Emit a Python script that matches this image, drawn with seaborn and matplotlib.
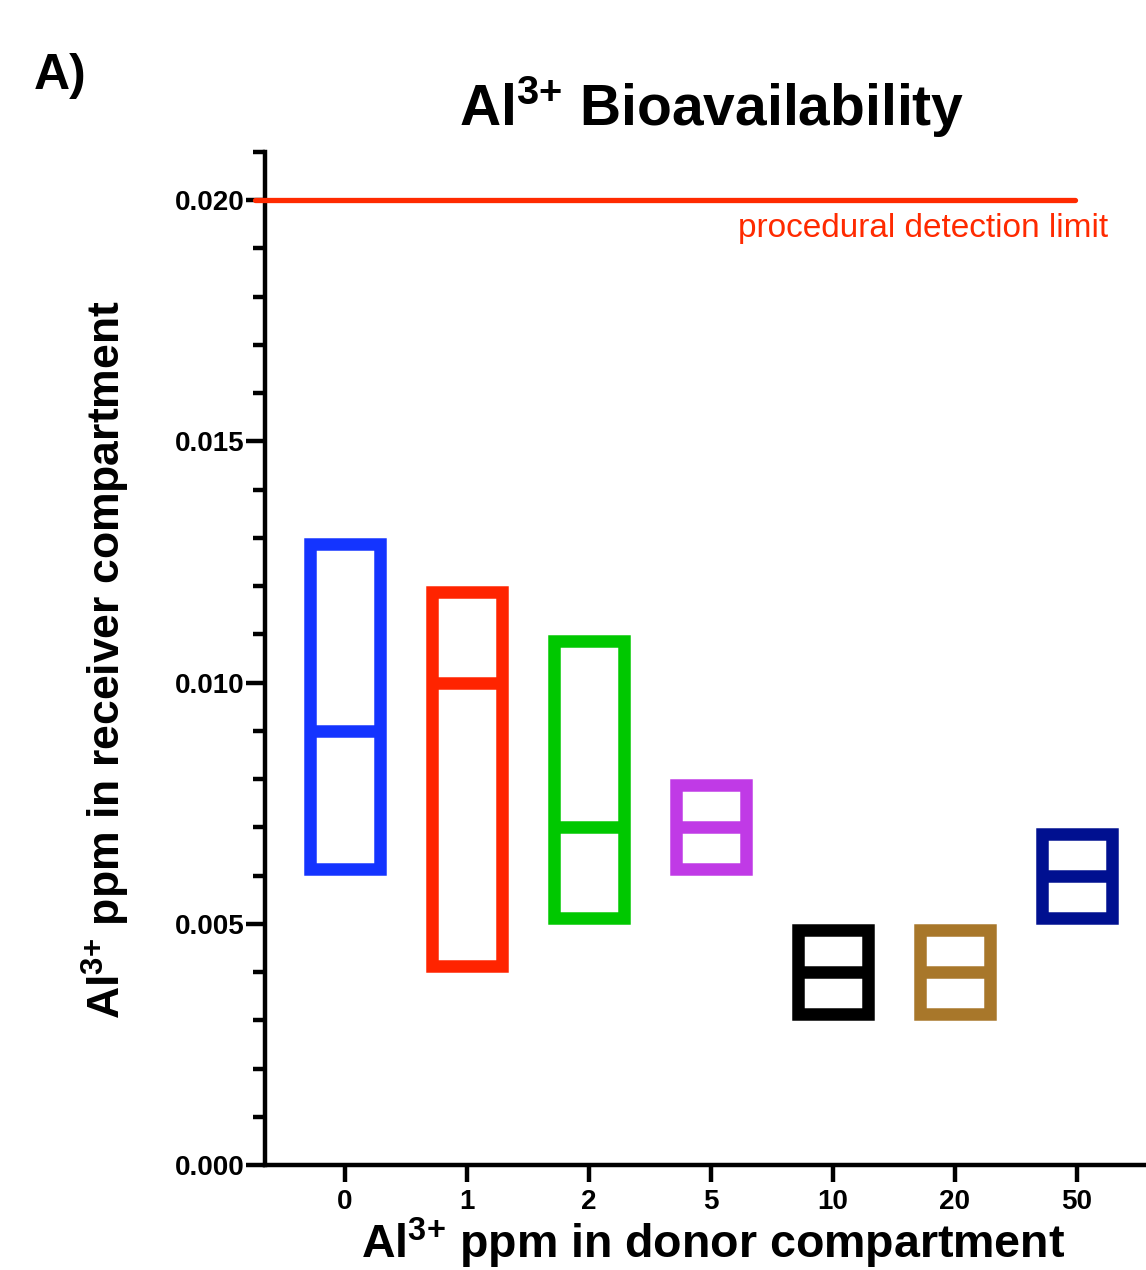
import matplotlib
matplotlib.use("Agg")
import matplotlib.pyplot as plt
import numpy as np
import seaborn as sns

# Al3+ ppm in donor compartment (categories)
donor_ppm = ["0", "1", "2", "5", "10", "20", "50"]
# receiver compartment ppm: min / max / median
recv_min = [0.006, 0.004, 0.005, 0.006, 0.003, 0.003, 0.005]
recv_max = [0.013, 0.012, 0.011, 0.008, 0.005, 0.005, 0.007]
recv_med = [0.009, 0.010, 0.007, 0.007, 0.004, 0.004, 0.006]
bar_colors = ["#1434ff", "#ff2400", "#00c800", "#c03ae6", "#000000", "#a8772a", "#001090"]
detection_limit = 0.020

sns.set_style("ticks")
plt.rcParams["font.family"] = ["Liberation Sans", "DejaVu Sans"]
plt.rcParams["font.weight"] = "bold"
plt.rcParams["text.color"] = "black"
plt.rcParams["axes.labelcolor"] = "black"
plt.rcParams["xtick.color"] = "black"
plt.rcParams["ytick.color"] = "black"
plt.rcParams["mathtext.fontset"] = "custom"
plt.rcParams["mathtext.rm"] = "Liberation Sans:bold"
plt.rcParams["mathtext.it"] = "Liberation Sans:bold"
plt.rcParams["mathtext.bf"] = "Liberation Sans:bold"

W, H, DPI = 1146, 1270, 100
fig = plt.figure(figsize=(W / DPI, H / DPI), dpi=DPI)
ax_l, ax_r, ax_b, ax_t = 265, 1146, 1165, 152
ax = fig.add_axes([ax_l / W, 1 - ax_b / H, (ax_r - ax_l) / W, (ax_b - ax_t) / H])

xlim = (-0.656, 6.566)
ylim = (0.0, 0.021)
lw_px = 12.5
lw_pt = lw_px * 72 / DPI
px_x = (ax_r - ax_l) / (xlim[1] - xlim[0])
px_y = (ax_b - ax_t) / (ylim[1] - ylim[0])
outer_w = 0.67
# stroke drawn inside the min/max range (GraphPad style)
inset_y = (lw_px / 2) / px_y
inner_w = outer_w - lw_px / px_x

lows = np.array(recv_min) + inset_y
highs = np.array(recv_max) - inset_y
sns.barplot(x=donor_ppm, y=highs - lows, bottom=lows, order=donor_ppm,
            color="k", fill=False, width=inner_w, linewidth=lw_pt,
            errorbar=None, ax=ax)
for patch, c in zip(ax.patches, bar_colors):
    patch.set_edgecolor(c)
    patch.set_facecolor("none")
    patch.set_joinstyle("miter")

xpos = np.arange(len(donor_ppm))
ax.hlines(recv_med, xpos - inner_w / 2, xpos + inner_w / 2,
          colors=bar_colors, linewidth=lw_pt)

# detection limit
ax.hlines(detection_limit, -0.74, 5.98, colors="#ff2a00", linewidth=3.8,
          clip_on=False, zorder=5, capstyle="round")
fig.text(1108 / W, 1 - 228 / H, "procedural detection limit", color="#ff2a00",
         fontsize=24, fontweight="normal", ha="right", va="center")

ax.set_xlim(*xlim)
ax.set_ylim(*ylim)
ax.set_yticks([0.0, 0.005, 0.010, 0.015, 0.020])
ax.set_yticklabels(["0.000", "0.005", "0.010", "0.015", "0.020"])
ax.set_yticks(np.arange(0, 22) * 0.001, minor=True)
ax.tick_params(axis="y", which="major", length=14, width=3.2, labelsize=20, pad=1)
ax.tick_params(axis="y", which="minor", length=8.5, width=3.2)
ax.tick_params(axis="x", which="major", length=12, width=3.2, labelsize=20, pad=5)
for lab in ax.get_xticklabels() + ax.get_yticklabels():
    lab.set_fontweight("bold")

sns.despine(ax=ax)
for s in ["left", "bottom"]:
    ax.spines[s].set_linewidth(3.2)
    ax.spines[s].set_color("black")

ax.set_xlabel(r"Al$^{3{+}}$ ppm in donor compartment", fontsize=33.5, fontweight="bold")
ax.xaxis.set_label_coords((713 - ax_l) / (ax_r - ax_l), -(1258 - ax_b) / (ax_b - ax_t), transform=ax.transAxes)
ax.xaxis.label.set_va("baseline")
ax.set_ylabel(r"Al$^{3{+}}$ ppm in receiver compartment", fontsize=32, fontweight="bold")
ax.yaxis.set_label_coords(-(ax_l - 106) / (ax_r - ax_l), (ax_b - 660) / (ax_b - ax_t), transform=ax.transAxes)
ax.yaxis.label.set_va("center")

fig.text(712 / W, 1 - 126 / H, r"Al$^{3{+}}$ Bioavailability", fontsize=41,
         fontweight="bold", ha="center", va="baseline")
fig.text(34 / W, 1 - 89 / H, "A)", fontsize=36, fontweight="bold",
         ha="left", va="baseline")

fig.savefig("out.png", dpi=DPI)
